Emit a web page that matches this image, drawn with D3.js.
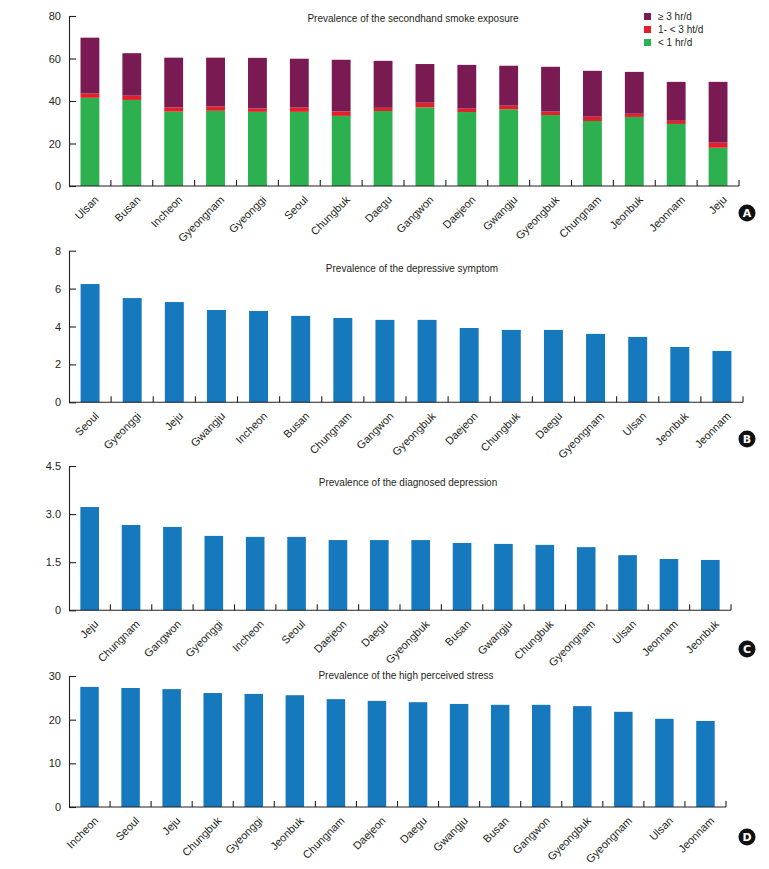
<!DOCTYPE html>
<html>
<head>
<meta charset="utf-8">
<script src="https://cdn.jsdelivr.net/npm/d3@7"></script>
<style>
  html, body { margin: 0; padding: 0; background: #fff; }
  svg { display: block; font-family: "Liberation Sans", Arial, Helvetica, sans-serif; }
</style>
</head>
<body>
<svg id="chart" width="769" height="869"></svg>
<script>
// ---------- Panel A: secondhand smoke exposure ----------
const regionsA = ["Ulsan","Busan","Incheon","Gyeongnam","Gyeonggi","Seoul","Chungbuk","Daegu","Gangwon","Daejeon","Gwangju","Gyeongbuk","Chungnam","Jeonbuk","Jeonnam","Jeju"];
const lt1A   = [41.5,40.5,35.0,35.4,34.9,34.9,33.0,35.3,37.0,34.8,36.1,33.4,30.6,32.5,29.2,18.0];
const mid1A  = [2.0,2.0,2.0,2.0,1.6,2.0,2.1,1.5,2.2,1.6,1.7,1.6,2.0,1.5,1.5,2.4];
const ge3A   = [26.3,20.0,23.4,23.0,23.8,23.0,24.3,22.1,18.2,20.6,18.8,21.1,21.6,19.7,18.3,28.6];
const seriesA = ["< 1 hr/d","1- < 3 ht/d","\u2265 3 hr/d"];
const ticksA = [0,20,40,60,80];

// ---------- Panel B: depressive symptom ----------
const regionsB = ["Seoul","Gyeonggi","Jeju","Gwangju","Incheon","Busan","Chungnam","Gangwon","Gyeongbuk","Daejeon","Chungbuk","Daegu","Gyeongnam","Ulsan","Jeonbuk","Jeonnam"];
const valuesB  = [6.24,5.50,5.29,4.87,4.82,4.56,4.45,4.35,4.35,3.92,3.82,3.82,3.61,3.45,2.92,2.71];
const ticksB = [0,2,4,6,8];

// ---------- Panel C: diagnosed depression ----------
const regionsC = ["Jeju","Chungnam","Gangwon","Gyeonggi","Incheon","Seoul","Daejeon","Daegu","Gyeongbuk","Busan","Gwangju","Chungbuk","Gyeongnam","Ulsan","Jeonnam","Jeonbuk"];
const valuesC  = [3.22,2.66,2.60,2.32,2.29,2.29,2.19,2.19,2.19,2.10,2.07,2.04,1.97,1.72,1.60,1.57];
const ticksC = [0,1.5,3.0,4.5];
const tickLabelsC = ["0","1.5","3.0","4.5"];

// ---------- Panel D: high perceived stress ----------
const regionsD = ["Incheon","Seoul","Jeju","Chungbuk","Gyeonggi","Jeonbuk","Chungnam","Daejeon","Daegu","Gwangju","Busan","Gangwon","Gyeongbuk","Gyeongnam","Ulsan","Jeonnam"];
const valuesD  = [27.5,27.25,27.0,26.1,25.9,25.6,24.7,24.3,24.0,23.6,23.4,23.4,23.1,21.8,20.2,19.7];
const ticksD = [0,10,20,30];

const colors = { green: "#2db04f", red: "#e3202a", purple: "#7a1a53", blue: "#1678bd", axis: "#231f20" };

const svg = d3.select("#chart");

function panel(cfg) {
  const g = svg.append("g");
  const x = d3.scaleBand().domain(cfg.regions).range([cfg.x0, cfg.x1]).padding(0);
  const y = d3.scaleLinear().domain([0, cfg.max]).range([cfg.yb, cfg.yt]);
  const bw = x.bandwidth() * 0.45;
  const off = (x.bandwidth() - bw) / 2;

  // bars
  if (cfg.stack) {
    const rows = cfg.regions.map((r, i) => ({ region: r, a: cfg.stack[0][i], b: cfg.stack[1][i], c: cfg.stack[2][i] }));
    const stacked = d3.stack().keys(["a","b","c"])(rows);
    const cols = [colors.green, colors.red, colors.purple];
    stacked.forEach((s, k) => {
      g.append("g").attr("fill", cols[k]).selectAll("rect").data(s).join("rect")
        .attr("x", d => x(d.data.region) + off)
        .attr("width", bw)
        .attr("y", d => y(d[1]))
        .attr("height", d => y(d[0]) - y(d[1]));
    });
  } else {
    g.append("g").attr("fill", colors.blue).selectAll("rect").data(cfg.regions).join("rect")
      .attr("x", d => x(d) + off)
      .attr("width", bw)
      .attr("y", (d, i) => y(cfg.values[i]))
      .attr("height", (d, i) => y(0) - y(cfg.values[i]));
  }

  // y axis
  const ya = d3.axisLeft(y).tickValues(cfg.ticks).tickSize(-7).tickSizeOuter(0).tickPadding(8)
    .tickFormat((d, i) => cfg.tickLabels ? cfg.tickLabels[i] : d3.format("d")(d));
  const yg = g.append("g").attr("transform", `translate(${cfg.x0},0)`).call(ya);
  yg.selectAll("path, line").attr("stroke", colors.axis).attr("stroke-width", 1.1);
  yg.selectAll("text").attr("font-size", 11).attr("fill", colors.axis)
    .attr("font-family", "Liberation Sans, Arial, sans-serif");

  // x axis line with upward ticks at band boundaries
  const xg = g.append("g");
  xg.append("line").attr("x1", cfg.x0).attr("x2", cfg.x1).attr("y1", y(0)).attr("y2", y(0))
    .attr("stroke", colors.axis).attr("stroke-width", 1.1);
  xg.selectAll("line.tk").data(cfg.regions).join("line").attr("class", "tk")
    .attr("x1", d => x(d) + x.step()).attr("x2", d => x(d) + x.step())
    .attr("y1", y(0)).attr("y2", y(0) - 6)
    .attr("stroke", colors.axis).attr("stroke-width", 1.1);
  xg.selectAll("text").data(cfg.regions).join("text")
    .attr("transform", d => `translate(${x(d) + x.bandwidth() / 2 + 4},${y(0) + 9}) rotate(-45)`)
    .attr("text-anchor", "end")
    .attr("dy", "0.7em")
    .attr("font-size", 11)
    .attr("fill", colors.axis)
    .text(d => d);

  // title
  g.append("text").attr("x", cfg.titleX).attr("y", cfg.titleY).attr("text-anchor", "middle")
    .attr("font-size", 10).attr("fill", colors.axis).text(cfg.title);

  // panel letter
  g.append("circle").attr("cx", 747).attr("cy", cfg.letterY).attr("r", 8.5).attr("fill", "#111");
  g.append("text").attr("x", 747).attr("y", cfg.letterY).attr("dy", "0.36em").attr("text-anchor", "middle")
    .attr("font-size", 11).attr("font-weight", "bold").attr("fill", "#fff")
    .attr("font-family", "DejaVu Sans, Arial, sans-serif").text(cfg.letter);

  return { g, x, y };
}

const pA = panel({ regions: regionsA, stack: [lt1A, mid1A, ge3A], max: 80, ticks: ticksA,
  x0: 69, x1: 739, yt: 16, yb: 186, title: "Prevalence of the secondhand smoke exposure",
  titleX: 413, titleY: 22, letter: "A", letterY: 213 });

// legend for panel A
const legendItems = [
  { label: seriesA[2], color: colors.purple },
  { label: seriesA[1], color: colors.red },
  { label: seriesA[0], color: colors.green }
];
const lg = svg.append("g").attr("transform", "translate(644,13)");
legendItems.forEach((it, i) => {
  lg.append("rect").attr("x", 0).attr("y", i * 13).attr("width", 7).attr("height", 7).attr("fill", it.color);
  lg.append("text").attr("x", 14).attr("y", i * 13 + 3.5).attr("dy", "0.35em")
    .attr("font-size", 10).attr("fill", colors.axis).text(it.label);
});

panel({ regions: regionsB, values: valuesB, max: 8, ticks: ticksB,
  x0: 69, x1: 743, yt: 250.7, yb: 402.3, title: "Prevalence of the depressive symptom",
  titleX: 412, titleY: 272, letter: "B", letterY: 439 });

panel({ regions: regionsC, values: valuesC, max: 4.5, ticks: ticksC, tickLabels: tickLabelsC,
  x0: 69, x1: 731, yt: 466, yb: 610.3, title: "Prevalence of the diagnosed depression",
  titleX: 408, titleY: 486, letter: "C", letterY: 649 });

panel({ regions: regionsD, values: valuesD, max: 30, ticks: ticksD,
  x0: 69, x1: 726, yt: 676, yb: 807, title: "Prevalence of the high perceived stress",
  titleX: 406, titleY: 679, letter: "D", letterY: 837 });
</script>
</body>
</html>
